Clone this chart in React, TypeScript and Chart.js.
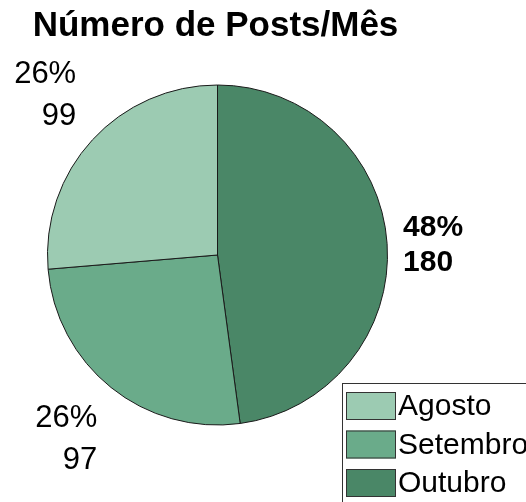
import React, { useEffect, useRef } from "react";
import { Chart, registerables } from "chart.js";

Chart.register(...registerables);

const title = "Número de Posts/Mês";
const categories = ["Agosto", "Setembro", "Outubro"];
const values = [99, 97, 180];
const colors = ["#9CCBB2", "#6AAB8A", "#4A8767"];
const boldLabel = [false, false, true];

const FONT = "'Liberation Sans', Arial, sans-serif";

export default function App() {
  const ref = useRef<HTMLCanvasElement | null>(null);

  useEffect(() => {
    if (!ref.current) return;
    const total = values.reduce((a, b) => a + b, 0);
    // drawn clockwise from top: Outubro, Setembro, Agosto
    const order = [2, 1, 0];

    const overlay = {
      id: "overlay",
      afterDraw(chart: any) {
        const ctx = chart.ctx;
        const meta = chart.getDatasetMeta(0);
        const arcs = meta.data;
        if (!arcs.length) return;
        const cx = arcs[0].x;
        const cy = arcs[0].y;
        const r = arcs[0].outerRadius;

        ctx.save();
        // title
        ctx.fillStyle = "#000";
        ctx.font = `bold 35px ${FONT}`;
        ctx.textAlign = "center";
        ctx.textBaseline = "alphabetic";
        ctx.fillText(title, cx - 2, 36);

        // data labels
        arcs.forEach((arc: any, i: number) => {
          const idx = order[i];
          const mid = (arc.startAngle + arc.endAngle) / 2;
          const dx = Math.cos(mid);
          const dy = Math.sin(mid);
          const bold = boldLabel[idx];
          const fs = bold ? 30 : 31;
          const lh = bold ? 35 : 42;
          const cap = fs * 0.716;
          const dist = r + (Math.abs(dy) < 0.3 ? 16 : 22);
          const ax = cx + dx * dist;
          const ay = cy + dy * dist;
          const lines = [
            Math.round((values[idx] / total) * 100) + "%",
            String(values[idx]),
          ];
          ctx.font = `${bold ? "bold " : ""}${fs}px ${FONT}`;
          ctx.textAlign = dx < 0 ? "right" : "left";
          ctx.textBaseline = "alphabetic";
          const blockH = cap + lh;
          let top: number;
          if (Math.abs(dy) < 0.3) top = ay - blockH / 2;
          else if (dy < 0) top = ay - blockH;
          else top = ay;
          lines.forEach((t, k) => {
            ctx.fillText(t, ax, top + cap + k * lh);
          });
        });

        // legend
        const lx = 342;
        const ly = 383;
        ctx.strokeStyle = "#333";
        ctx.lineWidth = 1;
        ctx.strokeRect(lx + 0.5, ly + 0.5, 300, 200);
        ctx.font = `30px ${FONT}`;
        ctx.textAlign = "left";
        ctx.textBaseline = "middle";
        categories.forEach((c, i) => {
          const sy = ly + 9 + i * 38.5;
          ctx.fillStyle = colors[i];
          ctx.fillRect(lx + 4, sy, 50, 28);
          ctx.strokeStyle = "#333";
          ctx.strokeRect(lx + 4.5, sy + 0.5, 49, 27);
          ctx.fillStyle = "#000";
          ctx.fillText(c, lx + 56, sy + 15);
        });
        ctx.restore();
      },
    };

    const chart = new Chart(ref.current, {
      type: "pie",
      data: {
        labels: order.map((i) => categories[i]),
        datasets: [
          {
            data: order.map((i) => values[i]),
            backgroundColor: order.map((i) => colors[i]),
            borderColor: "#1a1a1a",
            borderWidth: 1,
          },
        ],
      },
      options: {
        responsive: false,
        animation: false,
        layout: { padding: { left: 47, right: 138, top: 84, bottom: 76 } },
        plugins: {
          legend: { display: false },
          tooltip: { enabled: false },
          title: { display: false },
        },
      },
      plugins: [overlay],
    });
    return () => chart.destroy();
  }, []);

  return (
    <div style={{ position: "absolute", left: 0, top: 0, width: 526, height: 502, background: "#fff" }}>
      <canvas ref={ref} width={526} height={502} />
    </div>
  );
}
